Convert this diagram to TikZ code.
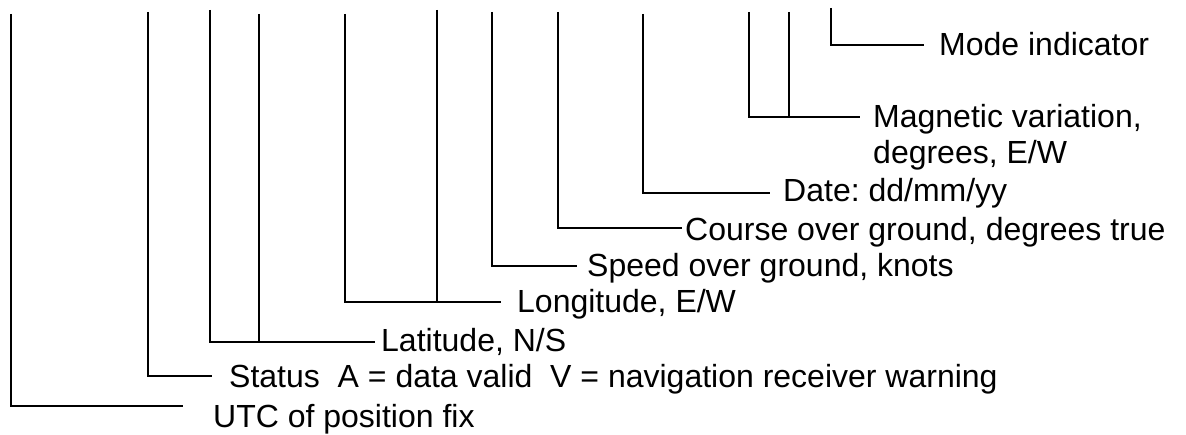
\documentclass[tikz,border=0pt]{standalone}
\usepackage{fontspec}
\setmainfont{Liberation Sans}
\frenchspacing
\begin{document}
\begin{tikzpicture}[x=1pt,y=-1pt,
  lbl/.style={anchor=base west, inner sep=0pt, font=\fontsize{32}{35}\selectfont\frenchspacing},
  lead/.style={line width=2pt, line join=miter}]
\useasboundingbox (0,0) rectangle (1186,435);
% labels
\node[lbl] (utc)    at (213,428) {UTC of position fix};
\node[lbl] (status) at (229,388) {Status\ \ A = data valid\ \ V = navigation receiver warning};
\node[lbl] (lat)    at (381,352) {Latitude, N/S};
\node[lbl] (lon)    at (517,313) {Longitude, E/W};
\node[lbl] (speed)  at (587,277) {Speed over ground, knots};
\node[lbl] (course) at (685,241) {Course over ground, degrees true};
\node[lbl] (date)   at (783,202) {Date: dd/mm/yy};
\node[lbl] (mag)    at (873,128) {Magnetic variation,};
\node[lbl] (magb)   at (873,164) {degrees, E/W};
\node[lbl] (mode)   at (939,56)  {Mode indicator};
% top ends of the leaders
\coordinate (tutc)  at (11,14);
\coordinate (tst)   at (148,12);
\coordinate (tla)   at (210,10);
\coordinate (tlb)   at (259,14);
\coordinate (tloa)  at (345,14);
\coordinate (tlob)  at (437,10);
\coordinate (tsp)   at (492,12);
\coordinate (tco)   at (558,12);
\coordinate (tda)   at (643,14);
\coordinate (tma)   at (749,12);
\coordinate (tmb)   at (789,12);
\coordinate (tmo)   at (831,8);
% free ends next to the labels
\coordinate (eutc)  at (183,406);
\coordinate (est)   at (212,376);
\coordinate (ela)   at (375,342);
\coordinate (elo)   at (501,302);
\coordinate (esp)   at (577,266);
\coordinate (eco)   at (682,228);
\coordinate (eda)   at (770,193);
\coordinate (ema)   at (860,117);
\coordinate (emo)   at (924,45);
% leaders
\draw[lead] (tutc) |- (eutc);
\draw[lead] (tst) |- (est);
\draw[lead] (tla) |- (ela);
\draw[lead] (tlb) -- (tlb |- ela);
\draw[lead] (tloa) |- (elo);
\draw[lead] (tlob) -- (tlob |- elo);
\draw[lead] (tsp) |- (esp);
\draw[lead] (tco) |- (eco);
\draw[lead] (tda) |- (eda);
\draw[lead] (tma) |- (ema);
\draw[lead] (tmb) -- (tmb |- ema);
\draw[lead] (tmo) |- (emo);
\end{tikzpicture}
\end{document}
